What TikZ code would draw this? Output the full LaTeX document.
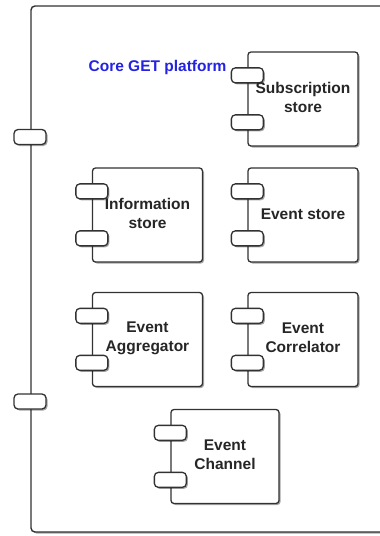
\documentclass[tikz,border=0pt]{standalone}
\usepackage{fontspec}
\setmainfont{Liberation Sans}
\usetikzlibrary{shadows,calc}
\definecolor{edge}{RGB}{50,50,50}
\definecolor{coreblue}{RGB}{35,35,225}
\tikzset{
  shade/.style={drop shadow={shadow xshift=1.5pt,shadow yshift=-1.5pt,opacity=0.35,fill=black}},
  frame/.style={draw=edge,line width=1.4pt,rounded corners=4pt,fill=white,shade,inner sep=0pt},
  comp/.style={draw=edge,line width=1.3pt,rounded corners=3pt,fill=white,shade,
    minimum width=110pt,minimum height=94pt,inner sep=0pt},
  port/.style={draw=edge,line width=1.3pt,rounded corners=4pt,fill=white,shade,
    minimum width=32pt,minimum height=15pt,inner sep=0pt},
  label/.style={font=\bfseries\fontsize{15.5}{19}\selectfont,align=center,text=black!85,inner sep=0pt},
}
\begin{document}
\begin{tikzpicture}[x=1pt,y=-1pt]
\useasboundingbox (0,0) rectangle (380,536);
\clip (0,0) rectangle (380,536);

% outer platform frame and its two ports
\node[frame,minimum width=369pt,minimum height=526pt] (platform) at (215.5,269) {};
\node[port] (pp1) at (30,137) {};
\node[port] (pp2) at (30,401.5) {};
\node[font=\bfseries\fontsize{15.5}{19}\selectfont,text=coreblue,inner sep=0pt] (title) at (157.5,67) {Core GET platform};

% components
\node[comp] (sub) at (303,99) {};
\node[comp] (info) at (147.5,215) {};
\node[comp] (evs) at (303,215) {};
\node[comp] (agg) at (147.5,339.5) {};
\node[comp] (cor) at (303,339.5) {};
\node[comp,minimum width=108pt] (chan) at (225,456.5) {};

% component ports
\foreach \c in {sub,info,evs,agg,cor,chan}{
  \node[port] (\c-p1) at ($(\c.north west)+(0,24)$) {};
  \node[port] (\c-p2) at ($(\c.north west)+(0,71)$) {};
}

% component names
\node[label] (sub-t) at ($(sub.center)+(0,-1.5)$) {Subscription\\store};
\node[label] (info-t) at ($(info.center)+(0,-1.5)$) {Information\\store};
\node[label] (evs-t) at ($(evs.center)+(0,-1)$) {Event store};
\node[label] (agg-t) at ($(agg.center)+(0,-1.5)$) {Event\\Aggregator};
\node[label] (cor-t) at ($(cor.center)+(0,-1.5)$) {Event\\Correlator};
\node[label] (chan-t) at ($(chan.center)+(0,-1.5)$) {Event\\Channel};
\end{tikzpicture}
\end{document}
